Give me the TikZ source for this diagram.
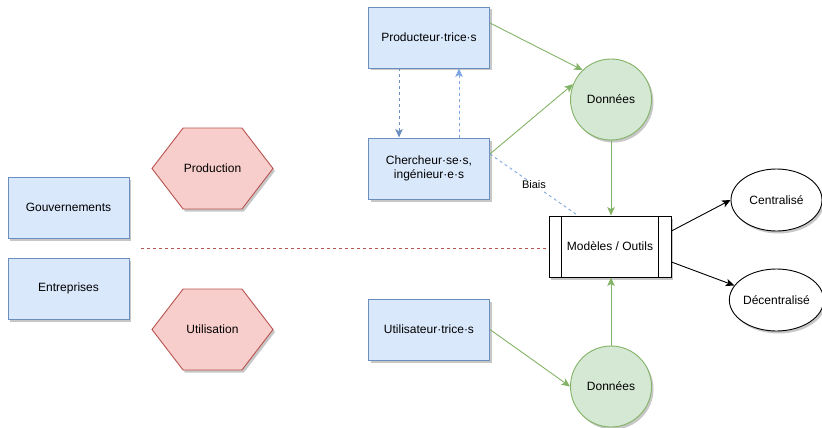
\documentclass[tikz,border=0pt]{standalone}
\usepackage{fontspec}
\setmainfont{Liberation Sans}
\usetikzlibrary{shapes.geometric,shapes.symbols,shadows,arrows.meta}
\definecolor{boxfill}{HTML}{DAE8FC}
\definecolor{boxdraw}{HTML}{6C8EBF}
\definecolor{hexfill}{HTML}{F8CECC}
\definecolor{hexdraw}{HTML}{B85450}
\definecolor{datfill}{HTML}{D5E8D4}
\definecolor{datdraw}{HTML}{82B366}
\definecolor{biasblue}{HTML}{7EA6E0}

\begin{document}
\begin{tikzpicture}[x=1pt,y=-1pt,line width=0.9pt,
  font=\fontsize{12}{14}\selectfont,
  castshadow/.style={drop shadow={shadow xshift=2pt,shadow yshift=-2.5pt,fill=black,opacity=0.22}},
  actor/.style={draw=boxdraw,fill=boxfill,castshadow,minimum width=121,minimum height=61,align=center},
  phase/.style={shape=signal,signal to=west and east,signal pointer angle=105,draw=hexdraw,fill=hexfill,castshadow,minimum width=121,minimum height=81,inner sep=0},
  data/.style={circle,draw=datdraw,fill=datfill,castshadow,minimum size=81,inner sep=0},
  mode/.style={ellipse,draw=black,fill=white,castshadow,minimum width=91,minimum height=62,inner sep=0},
  tool/.style={draw=black,fill=white,castshadow,minimum width=122,minimum height=61},
  flow/.style={draw=datdraw,-{Stealth[length=8.5pt,width=7.5pt,inset=2pt]}},
  link/.style={draw=boxdraw,dashed,-{Stealth[length=8.5pt,width=7.5pt,inset=2pt]}},
  issue/.style={draw=black,-{Stealth[length=8.5pt,width=7.5pt,inset=2pt]}}]
\useasboundingbox (0,0) rectangle (822,428);
% acteurs
\node[actor] (gouv) at (68.5,207.5) {Gouvernements};
\node[actor] (entr) at (68.5,288.5) {Entreprises};
\node[actor] (prodr) at (429,37.5) {Producteur·trice·s};
\node[actor] (cher) at (429,168.5) {Chercheur·se·s,\\ingénieur·e·s};
\node[actor] (util) at (429,329.5) {Utilisateur·trice·s};
% phases
\node[phase] (production) at (212.5,168.5) {Production};
\node[phase] (utilisation) at (212.5,329.5) {Utilisation};
% donnees
\node[data] (don1) at (611,99.5) {Données};
\node[data] (don2) at (611,386.5) {Données};
% modeles
\node[tool] (mod) at (610,246.5) {Modèles / Outils};
\draw ([xshift=13]mod.north west) -- ([xshift=13]mod.south west);
\draw ([xshift=-13]mod.north east) -- ([xshift=-13]mod.south east);
\node[mode] (cen) at (776.5,200) {Centralisé};
\node[mode] (dec) at (776.5,300) {Décentralisé};
% separation
\coordinate (split) at (141,248);
\draw[hexdraw,dashed] (split) -- (split -| mod.west);
% liens
\draw[link] ([xshift=-30]prodr.south) -- ([xshift=-30]cher.north);
\draw[link,biasblue] ([xshift=30]cher.north) -- ([xshift=30]prodr.south);
\draw[flow] ([yshift=14.5]prodr.east) -- (don1.134);
\draw[flow] ([yshift=14.5]cher.east) -- (don1.158);
\draw[biasblue,dashed] ([yshift=14.5]cher.east) -- node[fill=white,text=black,inner sep=1pt,font=\fontsize{11}{13}\selectfont] {Biais} ([xshift=-32]mod.north);
\draw[flow] (don1.south) -- (don1.south |- mod.north);
\draw[flow] (util.east) -- (don2.west);
\draw[flow] (don2.north) -- (don2.north |- mod.south);
\draw[issue] ([yshift=15.5]mod.east) -- (cen.west);
\draw[issue] ([yshift=-15.5]mod.east) -- (dec.161);
\end{tikzpicture}
\end{document}
